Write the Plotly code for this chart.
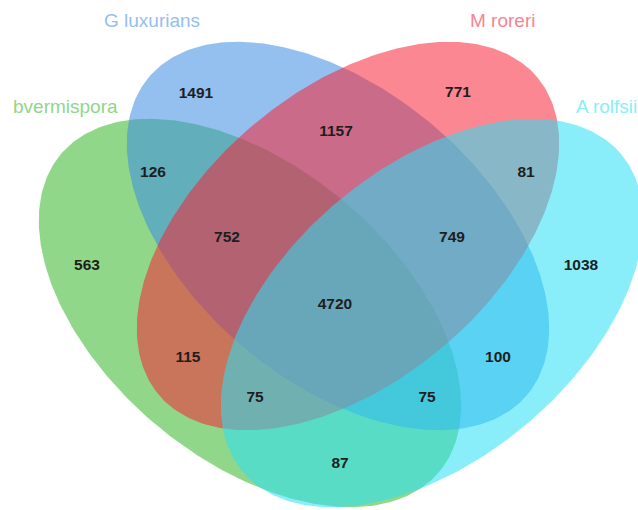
import numpy as np
import plotly.graph_objects as go

# ---- data ----
set_names = ["bvermispora", "G luxurians", "M roreri", "A rolfsii"]
region_keys = ["B", "G", "M", "A", "BG", "MA", "GM", "BGM", "GMA",
               "BGMA", "BM", "GA", "BMA", "BGA", "BA"]
region_counts = [563, 1491, 771, 1038, 126, 81, 1157, 752, 749,
                 4720, 115, 100, 75, 75, 87]

# ---- layout (pixel space, y downward) ----
W, H = 638, 510
ellipses = {  # cx, cy, semi-major, semi-minor, angle(deg)
    "bvermispora": (250, 313, 247, 146, 40),
    "G luxurians": (338, 236, 247, 146, 40),
    "M roreri": (348, 236, 247, 146, -40),
    "A rolfsii": (432, 313, 247, 146, -40),
}
base_colors = {
    "bvermispora": (53, 182, 40),
    "G luxurians": (60, 140, 227),
    "M roreri": (246, 37, 55),
    "A rolfsii": (42, 224, 246),
}
label_colors = {
    "bvermispora": "#90D68A",
    "G luxurians": "#94C0F0",
    "M roreri": "#F8858F",
    "A rolfsii": "#88EEF9",
}
set_label_pos = {
    "bvermispora": (65, 106),
    "G luxurians": (152, 20),
    "M roreri": (502, 20),
    "A rolfsii": (606, 106),
}
region_pos = {
    "B": (87, 266), "G": (196, 94), "M": (458, 93), "A": (581, 266),
    "BG": (153, 173), "MA": (526, 173), "GM": (336, 132),
    "BGM": (227, 238), "GMA": (452, 238), "BGMA": (335, 305),
    "BM": (188, 358), "GA": (498, 358), "BMA": (255, 398),
    "BGA": (427, 398), "BA": (340, 464),
}
ALPHA = 0.55

fig = go.Figure()
t = np.linspace(0, 2 * np.pi, 361)
for name in set_names:
    cx, cy, a, b, ang = ellipses[name]
    th = np.radians(ang)
    xs = cx + a * np.cos(t) * np.cos(th) - b * np.sin(t) * np.sin(th)
    ys = cy + a * np.cos(t) * np.sin(th) + b * np.sin(t) * np.cos(th)
    r, g, bl = base_colors[name]
    fig.add_trace(go.Scatter(
        x=xs, y=ys, mode="lines", fill="toself",
        fillcolor=f"rgba({r},{g},{bl},{ALPHA})",
        line=dict(width=0), hoverinfo="skip", showlegend=False))

fig.add_trace(go.Scatter(
    x=[region_pos[k][0] for k in region_keys],
    y=[region_pos[k][1] for k in region_keys],
    mode="text", text=[str(v) for v in region_counts],
    textfont=dict(family="Liberation Sans, Arial, sans-serif", size=15.5,
                  color="#1e1e1e", weight="bold"),
    textposition="middle center", hoverinfo="skip", showlegend=False))

for name in set_names:
    x, y = set_label_pos[name]
    fig.add_annotation(x=x, y=y, text=name, showarrow=False,
                       xanchor="center", yanchor="middle",
                       font=dict(family="Liberation Sans, Arial, sans-serif",
                                 size=19, color=label_colors[name]))

fig.update_layout(
    width=W, height=H, margin=dict(l=0, r=0, t=0, b=0),
    paper_bgcolor="white", plot_bgcolor="white",
    xaxis=dict(range=[0, W], visible=False, fixedrange=True),
    yaxis=dict(range=[H, 0], visible=False, fixedrange=True),
)
fig.write_html("out.html", config={"displayModeBar": False},
               post_script="document.body.style.margin='0';"
                           "document.body.style.overflow='hidden';")
